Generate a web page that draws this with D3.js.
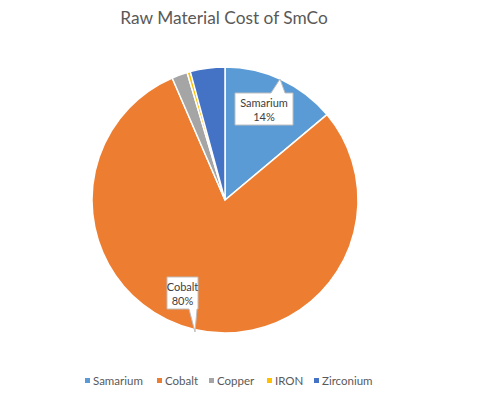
<!DOCTYPE html>
<html><head><meta charset="utf-8">
<script src="https://cdn.jsdelivr.net/npm/d3@7"></script>
<style>body{margin:0;background:#fff}svg{display:block}</style>
</head><body>
<script>
const categories = ["Samarium", "Cobalt", "Copper", "IRON", "Zirconium"];
const values = [13.9, 79.6, 1.9, 0.4, 4.2];
const colors = ["#5B9BD5", "#ED7D31", "#A5A5A5", "#FFC000", "#4472C4"];
const labelText = {"Samarium": "14%", "Cobalt": "80%"};

const W = 479, H = 397, cx = 225, cy = 200, R = 133;
const font = "Lato, 'Open Sans', sans-serif";
const svg = d3.select("body").append("svg").attr("width", W).attr("height", H);

svg.append("text").attr("x", 224).attr("y", 24).attr("text-anchor", "middle")
  .attr("font-family", font).attr("font-size", 17.3).attr("fill", "#595959")
  .text("Raw Material Cost of SmCo");

const data = categories.map((c, i) => ({name: c, value: values[i], color: colors[i]}));
const pie = d3.pie().value(d => d.value).sort(null);
const arcs = pie(data);
const arc = d3.arc().innerRadius(0).outerRadius(R);
const g = svg.append("g").attr("transform", `translate(${cx},${cy})`);
g.selectAll("path").data(arcs).join("path").attr("d", arc)
  .attr("fill", d => d.data.color).attr("stroke", "#fff").attr("stroke-width", 1.5);

// Callouts
function callout(name, box, tip, baseX) {
  const d = arcs.find(a => a.data.name === name);
  const [x0, y0, w, h] = box;
  const [tx, ty] = tip;
  let p;
  if (ty < y0) {
    p = `M${x0},${y0} L${baseX[0]},${y0} L${tx},${ty} L${baseX[1]},${y0} L${x0 + w},${y0} L${x0 + w},${y0 + h} L${x0},${y0 + h} Z`;
  } else {
    p = `M${x0},${y0} L${x0 + w},${y0} L${x0 + w},${y0 + h} L${baseX[1]},${y0 + h} L${tx},${ty} L${baseX[0]},${y0 + h} L${x0},${y0 + h} Z`;
  }
  svg.append("path").attr("d", p).attr("fill", "#fff").attr("stroke", "#bfbfbf").attr("stroke-width", 1);
  const t = svg.append("text").attr("text-anchor", "middle").attr("font-family", font)
    .attr("font-size", 11).attr("fill", "#404040");
  t.append("tspan").attr("x", x0 + w / 2).attr("y", y0 + 14).text(d.data.name);
  t.append("tspan").attr("x", x0 + w / 2).attr("y", y0 + 28).text(labelText[name]);
}
callout("Samarium", [235, 93, 58, 32], [280, 79], [271, 285]);
callout("Cobalt", [167, 277, 31, 32], [195, 332], [189, 197]);

// Legend
const legX = [85, 157, 209, 267, 314];
const lg = svg.append("g");
data.forEach((d, i) => {
  lg.append("rect").attr("x", legX[i]).attr("y", 378).attr("width", 5).attr("height", 5).attr("fill", d.color);
  lg.append("text").attr("x", legX[i] + 8).attr("y", 385).attr("font-family", font)
    .attr("font-size", 11.5).attr("fill", "#595959").text(d.name);
});
</script>
</body></html>
